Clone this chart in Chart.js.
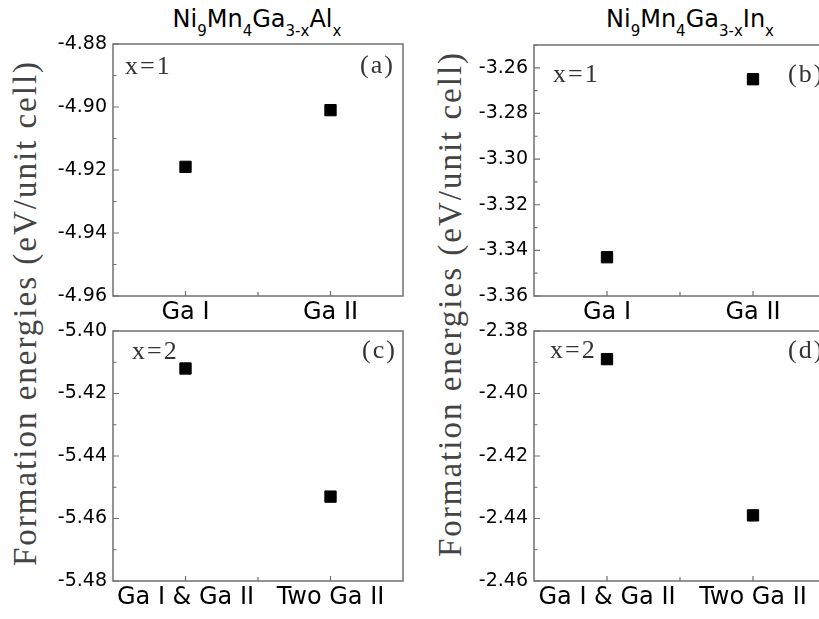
<!DOCTYPE html>
<html><head><meta charset="utf-8">
<script src="https://cdn.jsdelivr.net/npm/chart.js@4.4.0/dist/chart.umd.min.js"></script>
<style>
html,body{margin:0;padding:0;width:819px;height:619px;overflow:hidden;background:#fff;}
canvas{position:absolute;}
.title{position:absolute;top:7px;font-family:"DejaVu Sans";font-size:24px;line-height:1;color:#000;white-space:nowrap;transform:translateX(-50%);}
.title sub{font-size:15px;vertical-align:-9px;line-height:0;}
.ylab{position:absolute;font-family:"Liberation Serif","DejaVu Serif",serif;font-size:33px;letter-spacing:2px;color:#444;white-space:nowrap;transform:translate(-50%,-50%) rotate(-90deg);}
</style></head><body>
<div class="title" style="left:257px">Ni<sub>9</sub>Mn<sub>4</sub>Ga<sub>3-x</sub>Al<sub>x</sub></div>
<div class="title" style="left:690px">Ni<sub>9</sub>Mn<sub>4</sub>Ga<sub>3-x</sub>In<sub>x</sub></div>
<div class="ylab" style="left:25px;top:313px">Formation energies (eV/unit cell)</div>
<div class="ylab" style="left:450px;top:304px">Formation energies (eV/unit cell)</div>
<script>
// ---- data ----
const categoriesX1 = ["Ga I", "Ga II"];
const categoriesX2 = ["Ga I & Ga II", "Two Ga II"];
const alloyAl_x1 = [-4.919, -4.901];
const alloyIn_x1 = [-3.343, -3.265];
const alloyAl_x2 = [-5.412, -5.453];
const alloyIn_x2 = [-2.389, -2.439];
const ticksA = [-4.96, -4.94, -4.92, -4.90, -4.88];
const ticksB = [-3.36, -3.34, -3.32, -3.30, -3.28, -3.26];
const ticksC = [-5.48, -5.46, -5.44, -5.42, -5.40];
const ticksD = [-2.46, -2.44, -2.42, -2.40, -2.38];
const rangeA = [-4.96, -4.88];
const rangeB = [-3.36, -3.25];
const rangeC = [-5.48, -5.40];
const rangeD = [-2.46, -2.38];

// ---- layout ----
const PADL = 90, PADT = 20, PADR = 20, PADB = 50;
const panels = [
  {cats: categoriesX1, vals: alloyAl_x1, ticks: ticksA, range: rangeA, area: [113, 44, 403, 296],
   notes: {left: "x=1", right: "(a)", lx: 12, ly: 30, rx: 43, ry: 29}},
  {cats: categoriesX1, vals: alloyIn_x1, ticks: ticksB, range: rangeB, area: [534, 45, 826, 296],
   notes: {left: "x=1", right: "(b)", lx: 19, ly: 37, rx: 38, ry: 37}},
  {cats: categoriesX2, vals: alloyAl_x2, ticks: ticksC, range: rangeC, area: [113, 331, 403, 581],
   notes: {left: "x=2", right: "(c)", lx: 19, ly: 28, rx: 41, ry: 27}},
  {cats: categoriesX2, vals: alloyIn_x2, ticks: ticksD, range: rangeD, area: [534, 331, 826, 581],
   notes: {left: "x=2", right: "(d)", lx: 16, ly: 27, rx: 38, ry: 27}}
];

const FRAME = '#707070';
const framePlugin = {
  id: 'frame',
  afterDraw(chart, args, o) {
    const ctx = chart.ctx, a = chart.chartArea;
    const ys = chart.scales.y, xs = chart.scales.x;
    ctx.save();
    ctx.strokeStyle = FRAME; ctx.lineWidth = 1.5;
    ctx.strokeRect(a.left, a.top, a.right - a.left, a.bottom - a.top);
    ctx.lineWidth = 1.2;
    ctx.beginPath();
    const t = o.ticks;
    const step = t[1] - t[0];
    t.forEach(v => { const p = ys.getPixelForValue(v); ctx.moveTo(a.left, p); ctx.lineTo(a.left + 6, p); });
    for (let i = 0; i < t.length; i++) {
      const m = t[i] + step / 2;
      if (m <= ys.max + 1e-9) { const p = ys.getPixelForValue(m); ctx.moveTo(a.left, p); ctx.lineTo(a.left + 3.5, p); }
    }
    [0, 0.5, 1].forEach((v, i) => { const p = xs.getPixelForValue(v); ctx.moveTo(p, a.bottom); ctx.lineTo(p, a.bottom - (i === 1 ? 4 : 5)); });
    ctx.stroke();
    // annotations
    const n = o.notes;
    ctx.fillStyle = '#333';
    ctx.font = '26px "Liberation Serif", "DejaVu Serif", serif';
    try { ctx.letterSpacing = '2px'; } catch (e) {}
    ctx.textBaseline = 'alphabetic';
    ctx.textAlign = 'left';
    ctx.fillText(n.left, a.left + n.lx, a.top + n.ly);
    ctx.fillText(n.right, a.right - n.rx, a.top + n.ry);
    ctx.restore();
  }
};

panels.forEach(pn => {
  const [l, t, r, b] = pn.area;
  const cv = document.createElement('canvas');
  const w = (r - l) + PADL + PADR, h = (b - t) + PADT + PADB;
  cv.width = w; cv.height = h;
  cv.style.left = (l - PADL) + 'px';
  cv.style.top = (t - PADT) + 'px';
  document.body.appendChild(cv);
  new Chart(cv, {
    type: 'line',
    data: {
      labels: pn.cats,
      datasets: [{
        data: pn.vals,
        showLine: false,
        pointStyle: 'rect',
        pointRadius: 8,
        backgroundColor: '#000',
        borderColor: '#000',
        borderWidth: 1
      }]
    },
    options: {
      responsive: false,
      animation: false,
      devicePixelRatio: 1,
      events: [],
      layout: {padding: {left: 0, top: PADT, right: PADR, bottom: 0}},
      plugins: {legend: {display: false}, tooltip: {enabled: false}, title: {display: false},
                frame: {ticks: pn.ticks, notes: pn.notes}},
      scales: {
        x: {
          type: 'category', offset: true,
          grid: {display: false, drawTicks: false},
          border: {display: false},
          ticks: {font: {family: 'DejaVu Sans', size: 24}, color: '#000', padding: 2, maxRotation: 0, autoSkip: false},
          afterFit: s => { s.height = PADB; }
        },
        y: {
          min: pn.range[0], max: pn.range[1],
          grid: {display: false, drawTicks: false},
          border: {display: false},
          afterBuildTicks: s => { s.ticks = pn.ticks.map(v => ({value: v})); },
          ticks: {font: {family: 'DejaVu Sans', size: 19}, color: '#000', padding: 6,
                  callback: v => Number(v).toFixed(2)},
          afterFit: s => { s.width = PADL; }
        }
      }
    },
    plugins: [framePlugin]
  });
});
</script>
</body></html>
